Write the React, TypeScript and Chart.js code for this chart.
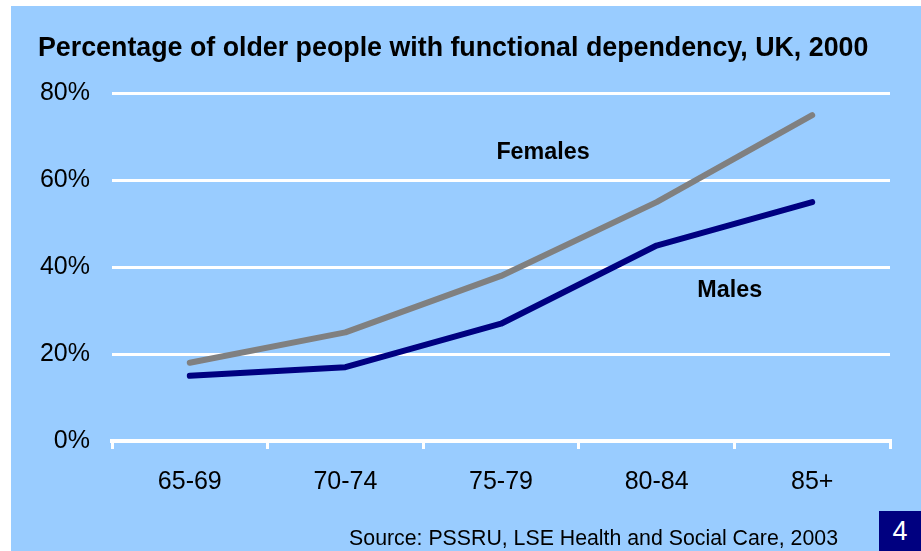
import React, { useEffect, useRef } from "react";
import { Chart, registerables } from "chart.js";

Chart.register(...registerables);

const categories = ["65-69", "70-74", "75-79", "80-84", "85+"];
const females = [18, 25, 38, 55, 75];
const males = [15, 17, 27, 45, 55];
const yTicks = [0, 20, 40, 60, 80];
const seriesNames = ["Females", "Males"];
const titleText = "Percentage of older people with functional dependency, UK, 2000";
const sourceText = "Source: PSSRU, LSE Health and Social Care, 2003";
const slideNumber = "4";

// annotation anchors (category index, value) for series name labels
const labelAnchors = [
  { x: 2.27, y: 66.5 },
  { x: 3.47, y: 34.7 },
];

const FONT = "'Liberation Sans', Arial, Helvetica, sans-serif";
const BG = "#99CCFF";

const labelPlugin = {
  id: "seriesLabels",
  afterDatasetsDraw(chart: any) {
    const { ctx, scales } = chart;
    const xs = scales.x;
    const ys = scales.y;
    ctx.save();
    ctx.font = `bold 23.3px ${FONT}`;
    ctx.fillStyle = "#000000";
    ctx.textAlign = "center";
    ctx.textBaseline = "middle";
    labelAnchors.forEach((a, i) => {
      const i0 = Math.floor(a.x);
      const f = a.x - i0;
      const p0 = xs.getPixelForValue(i0);
      const p1 = xs.getPixelForValue(i0 + 1);
      const px = p0 + (p1 - p0) * f;
      const py = ys.getPixelForValue(a.y);
      ctx.fillText(seriesNames[i], px, py);
    });
    ctx.restore();
  },
};

export default function App() {
  const ref = useRef<HTMLCanvasElement | null>(null);

  useEffect(() => {
    if (!ref.current) return;
    const chart = new Chart(ref.current, {
      type: "line",
      data: {
        labels: categories,
        datasets: [
          {
            label: seriesNames[0],
            data: females,
            borderColor: "#808080",
            backgroundColor: "#808080",
            borderWidth: 6,
            pointRadius: 0,
            borderCapStyle: "round",
            borderJoinStyle: "round",
            tension: 0,
          },
          {
            label: seriesNames[1],
            data: males,
            borderColor: "#000080",
            backgroundColor: "#000080",
            borderWidth: 6,
            pointRadius: 0,
            borderCapStyle: "round",
            borderJoinStyle: "round",
            tension: 0,
          },
        ],
      },
      options: {
        responsive: false,
        animation: false,
        layout: { padding: { left: 0, top: 87.5, right: 31, bottom: 0 } },
        plugins: {
          legend: { display: false },
          title: { display: false },
          tooltip: { enabled: false },
        },
        scales: {
          x: {
            offset: true,
            border: { display: true, color: "#FFFFFF", width: 4 },
            grid: {
              display: true,
              offset: true,
              drawOnChartArea: false,
              drawTicks: true,
              tickLength: 8,
              color: "#FFFFFF",
              lineWidth: 3,
            },
            ticks: {
              color: "#000000",
              font: { family: FONT, size: 25 },
              padding: 18,
              maxRotation: 0,
            },
            afterFit(scale: any) {
              scale.height = 110;
            },
          },
          y: {
            min: 0,
            max: 80,
            border: { display: false },
            grid: {
              color: "#FFFFFF",
              lineWidth: 3,
              drawTicks: false,
            },
            afterBuildTicks(scale: any) {
              scale.ticks = yTicks.map((v) => ({ value: v }));
            },
            ticks: {
              color: "#000000",
              font: { family: FONT, size: 25 },
              padding: 22,
              callback: (v: any) => `${v}%`,
            },
            afterFit(scale: any) {
              scale.width = 101;
            },
          },
        },
      },
      plugins: [labelPlugin],
    } as any);
    return () => chart.destroy();
  }, []);

  return (
    <div
      style={{
        position: "fixed",
        left: 0,
        top: 0,
        width: 921,
        height: 551,
        background: "#FFFFFF",
        overflow: "hidden",
      }}
    >
      <div
        style={{
          position: "absolute",
          left: 11,
          top: 6,
          width: 910,
          height: 545,
          background: BG,
        }}
      >
        <canvas ref={ref} width={910} height={545} style={{ display: "block" }} />
        <div
          style={{
            position: "absolute",
            left: 27,
            top: 41,
            transform: "translateY(-50%)",
            fontFamily: FONT,
            fontWeight: "bold",
            fontSize: 26.8,
            color: "#000000",
            whiteSpace: "nowrap",
          }}
        >
          {titleText}
        </div>
        <div
          style={{
            position: "absolute",
            right: 910 - 827,
            top: 532,
            transform: "translateY(-50%)",
            fontFamily: FONT,
            fontSize: 21.3,
            color: "#000000",
            whiteSpace: "nowrap",
          }}
        >
          {sourceText}
        </div>
        <div
          style={{
            position: "absolute",
            left: 868,
            top: 505,
            width: 42,
            height: 40,
            background: "#000080",
            color: "#FFFFFF",
            fontFamily: FONT,
            fontSize: 27,
            display: "flex",
            alignItems: "center",
            justifyContent: "center",
          }}
        >
          {slideNumber}
        </div>
      </div>
    </div>
  );
}
